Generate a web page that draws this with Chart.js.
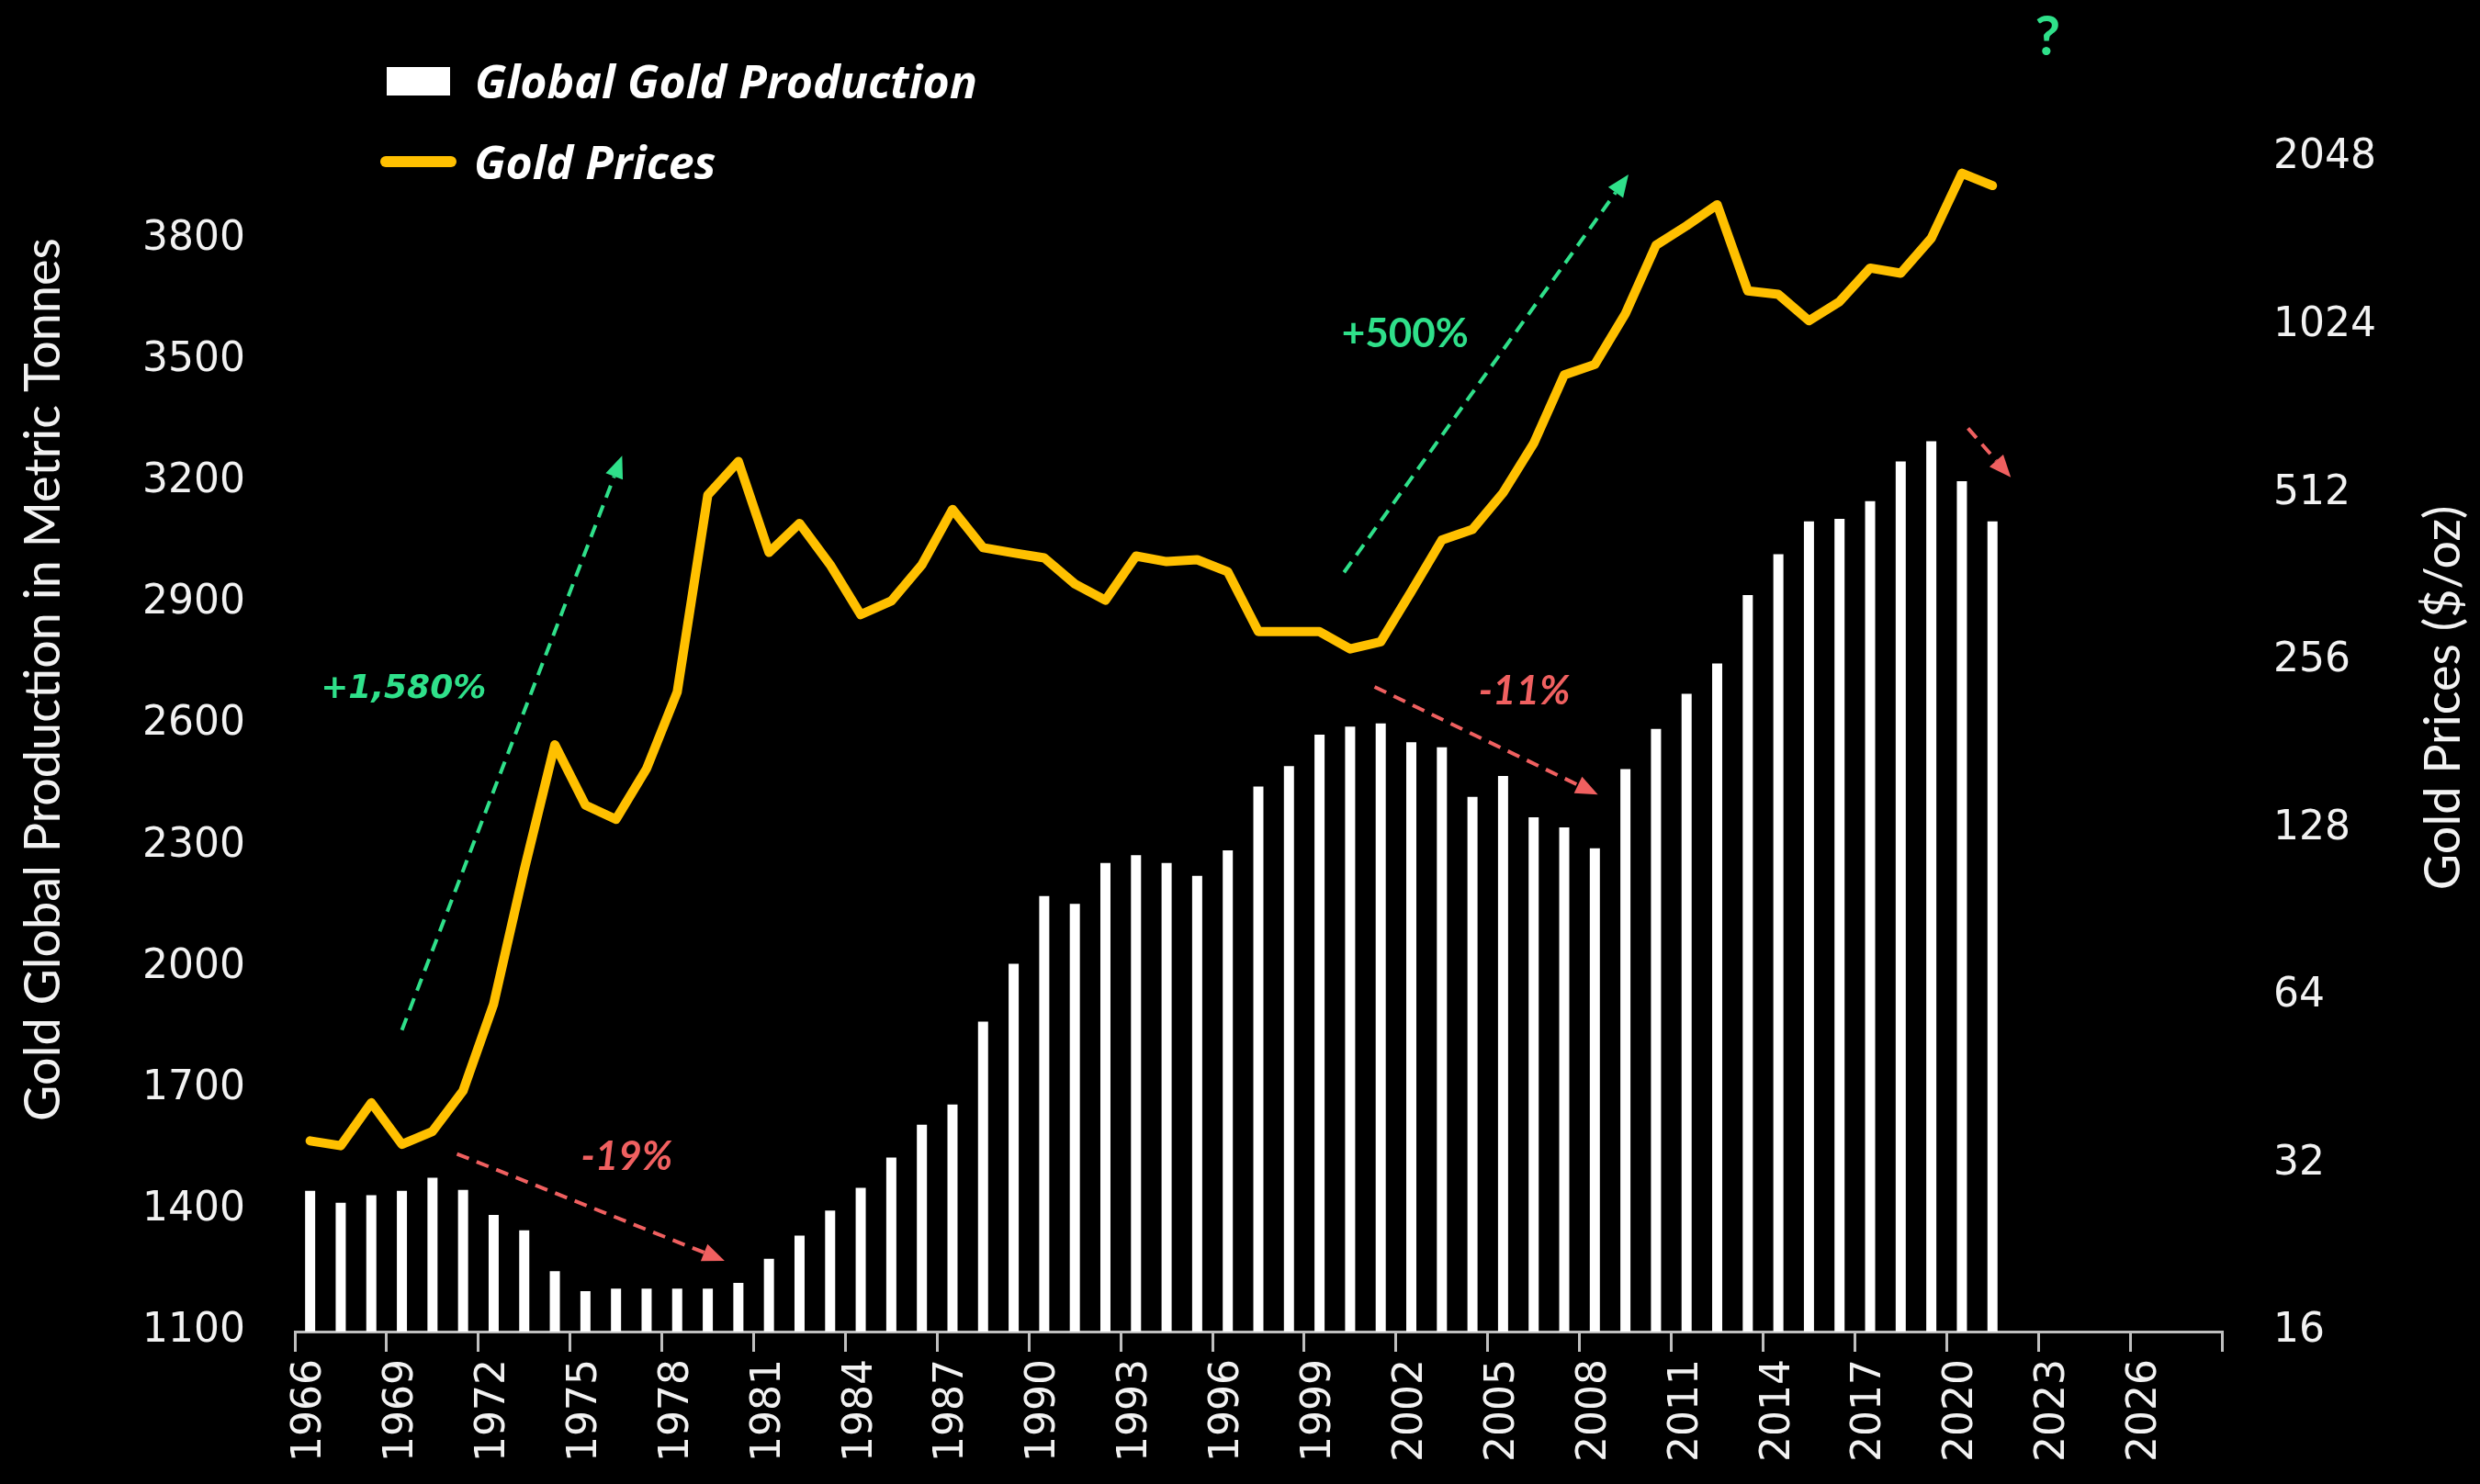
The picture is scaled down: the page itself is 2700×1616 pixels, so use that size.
<!DOCTYPE html>
<html lang="en">
<head>
  <meta charset="UTF-8">
  <title>Global Gold Production vs Gold Prices</title>
  <script src="https://cdn.jsdelivr.net/npm/chart.js"></script>
  <style>
    body {
      margin: 0;
      background: #000;
    }

    .wrap {
      position: relative;
      width: 2700px;
      height: 1616px;
      background: #000;
    }

    .legend {
      position: absolute;
      left: 414px;
      top: 58px;
      font-family: 'Open Sans', sans-serif;
      font-weight: 700;
      font-style: italic;
      font-size: 50px;
      color: #fff;
    }

    .legend-row {
      display: flex;
      align-items: center;
      height: 60px;
      margin-bottom: 28px;
    }

    .swatch-box {
      width: 69px;
      height: 31px;
      margin: 0 27px 0 7px;
      background: #fff;
    }

    .swatch-line {
      width: 83px;
      height: 12px;
      margin-right: 19px;
      border-radius: 6px;
      background: #ffc000;
    }
  </style>
</head>
<body>

<div class="wrap">
  <canvas id="goldChart"></canvas>
  <div class="legend">
    <div class="legend-row"><span class="swatch-box"></span>Global Gold Production</div>
    <div class="legend-row"><span class="swatch-line"></span>Gold Prices</div>
  </div>
</div>

<script>
  const years = [
    '1966', '1967', '1968', '1969', '1970', '1971', '1972', '1973', '1974', '1975',
    '1976', '1977', '1978', '1979', '1980', '1981', '1982', '1983', '1984', '1985',
    '1986', '1987', '1988', '1989', '1990', '1991', '1992', '1993', '1994', '1995',
    '1996', '1997', '1998', '1999', '2000', '2001', '2002', '2003', '2004', '2005',
    '2006', '2007', '2008', '2009', '2010', '2011', '2012', '2013', '2014', '2015',
    '2016', '2017', '2018', '2019', '2020', '2021', '2022', '2023', '2024', '2025',
    '2026', '2027', '2028'
  ];

  // tonnes, 1966-2021
  const production = [
    1448, 1418, 1437, 1448, 1480, 1450, 1388, 1350, 1249, 1200,
    1206, 1206, 1206, 1206, 1220, 1280, 1337, 1399, 1455, 1530,
    1611, 1661, 1866, 2009, 2176, 2157, 2258, 2277, 2258, 2226,
    2289, 2447, 2497, 2575, 2595, 2603, 2556, 2544, 2421, 2473,
    2371, 2346, 2294, 2490, 2589, 2676, 2751, 2920, 3021, 3102,
    3108, 3152, 3250, 3300, 3201, 3102
  ];

  // $/oz, 1966-2021
  const goldPrice = [
    35.2, 34.5, 41.2, 34.7, 36.6, 43.3, 62, 108, 181, 141,
    133, 164, 225, 508, 584, 401, 452, 381, 310, 328,
    381, 479, 409, 400, 392, 352, 329, 395, 386, 389,
    370, 289, 289, 289, 269, 277, 341, 422, 441, 513,
    629, 835, 872, 1076, 1428, 1547, 1688, 1182, 1165, 1045,
    1131, 1299, 1272, 1470, 1923, 1827
  ];

  const productionTicks = [1100, 1400, 1700, 2000, 2300, 2600, 2900, 3200, 3500, 3800];
  const priceTicks = [16, 32, 64, 128, 256, 512, 1024, 2048];

  const GREEN = '#2fe08a';
  const RED = '#f06060';
  const GOLD = '#ffc000';
  const AXIS = '#bfbfbf';
  const TEXT = '#f2f2f2';

  // arrows: [year index, production value] -> [year index, production value]
  const arrows = [
    { from: [3.0, 1845], to: [10.2, 3264], color: GREEN },
    { from: [4.8, 1539], to: [13.55, 1275], color: RED },
    { from: [33.8, 2976], to: [43.1, 3959], color: GREEN },
    { from: [34.8, 2693], to: [42.1, 2427], color: RED },
    { from: [54.2, 3332], to: [55.6, 3211], color: RED }
  ];

  const notes = [
    { text: '+1,580%', at: [3.05, 2686], color: GREEN, font: 'italic bold 36px "DejaVu Sans"' },
    { text: '-19%', at: [10.35, 1532], color: RED, font: 'italic bold 44px Lato' },
    { text: '+500%', at: [35.8, 3564], color: GREEN, font: 'bold 44px Lato' },
    { text: '-11%', at: [39.7, 2682], color: RED, font: 'italic bold 44px Lato' },
    { text: '?', at: [56.8, 4298], color: GREEN, font: 'bold 60px Lato' }
  ];

  function drawArrow(ctx, x0, y0, x1, y1, color) {
    const ang = Math.atan2(y1 - y0, x1 - x0);
    const head = 24;
    const half = 10;
    const bx = x1 - head * Math.cos(ang);
    const by = y1 - head * Math.sin(ang);
    ctx.save();
    ctx.strokeStyle = color;
    ctx.lineWidth = 4;
    ctx.setLineDash([14, 9]);
    ctx.beginPath();
    ctx.moveTo(x0, y0);
    ctx.lineTo(bx, by);
    ctx.stroke();
    ctx.setLineDash([]);
    ctx.fillStyle = color;
    ctx.beginPath();
    ctx.moveTo(x1, y1);
    ctx.lineTo(bx + half * Math.sin(ang), by - half * Math.cos(ang));
    ctx.lineTo(bx - half * Math.sin(ang), by + half * Math.cos(ang));
    ctx.closePath();
    ctx.fill();
    ctx.restore();
  }

  function drawVertical(ctx, text, x, y) {
    ctx.save();
    ctx.translate(x, y);
    ctx.rotate(-Math.PI / 2);
    ctx.textAlign = 'center';
    ctx.textBaseline = 'middle';
    ctx.fillText(text, 0, 0);
    ctx.restore();
  }

  const annotations = {
    id: 'annotations',
    afterDatasetsDraw(chart) {
      const { ctx, scales } = chart;
      const px = v => scales.x.getPixelForValue(v);
      const py = v => scales.y.getPixelForValue(v);

      arrows.forEach(a => {
        drawArrow(ctx, px(a.from[0]), py(a.from[1]), px(a.to[0]), py(a.to[1]), a.color);
      });

      notes.forEach(n => {
        ctx.save();
        ctx.font = n.font;
        ctx.fillStyle = n.color;
        ctx.textAlign = 'center';
        ctx.textBaseline = 'middle';
        ctx.fillText(n.text, px(n.at[0]), py(n.at[1]));
        ctx.restore();
      });

      // axis titles, both read bottom to top
      ctx.save();
      ctx.fillStyle = TEXT;
      ctx.font = '54px Lato';
      drawVertical(ctx, 'Gold Global Production in Metric Tonnes', 48, 740);
      ctx.font = '54px Lato';
      drawVertical(ctx, 'Gold Prices ($/oz)', 2661, 760);
      ctx.restore();
    }
  };

  const ctx = document.getElementById('goldChart').getContext('2d');
  const goldChart = new Chart(ctx, {
    type: 'bar',
    data: {
      labels: years,
      datasets: [
        {
          type: 'line',
          label: 'Gold Prices',
          data: goldPrice,
          yAxisID: 'y1',
          borderColor: GOLD,
          backgroundColor: GOLD,
          borderWidth: 10,
          borderJoinStyle: 'round',
          borderCapStyle: 'round',
          pointRadius: 0,
          tension: 0,
          order: 0
        },
        {
          label: 'Global Gold Production',
          data: production,
          yAxisID: 'y',
          backgroundColor: '#ffffff',
          categoryPercentage: 1,
          barPercentage: 0.33,
          order: 1
        }
      ]
    },
    options: {
      responsive: true,
      maintainAspectRatio: false,
      animation: false,
      layout: {
        padding: { top: 172, left: 0, right: 0, bottom: 0 }
      },
      plugins: {
        legend: { display: false },
        tooltip: { enabled: false }
      },
      scales: {
        x: {
          offset: true,
          afterFit: s => { s.height = 166; },
          grid: {
            offset: true,
            drawOnChartArea: false,
            drawTicks: true,
            tickLength: 22,
            lineWidth: 3,
            color: c => (c.index === undefined || c.index % 3 === 0) ? AXIS : 'rgba(0,0,0,0)'
          },
          border: { display: true, color: AXIS, width: 3 },
          ticks: {
            autoSkip: false,
            minRotation: 90,
            maxRotation: 90,
            padding: 8,
            color: TEXT,
            font: { family: 'DejaVu Sans', size: 44 },
            callback: (v, i) => (i % 3 === 0 ? years[i] : '')
          }
        },
        y: {
          position: 'left',
          min: 1100,
          max: 4000,
          afterFit: s => { s.width = 321; },
          afterBuildTicks: s => { s.ticks = productionTicks.map(v => ({ value: v })); },
          grid: { display: false, drawTicks: false },
          border: { display: false },
          ticks: {
            padding: 54,
            color: TEXT,
            font: { family: 'DejaVu Sans', size: 44 },
            callback: v => String(v)
          }
        },
        y1: {
          type: 'logarithmic',
          position: 'right',
          min: 16,
          max: 2048,
          afterFit: s => { s.width = 281; },
          afterBuildTicks: s => { s.ticks = priceTicks.map(v => ({ value: v })); },
          grid: { display: false, drawTicks: false },
          border: { display: false },
          ticks: {
            padding: 56,
            color: TEXT,
            font: { family: 'DejaVu Sans', size: 44 },
            callback: v => String(v)
          }
        }
      }
    },
    plugins: [annotations]
  });
</script>

</body>
</html>
